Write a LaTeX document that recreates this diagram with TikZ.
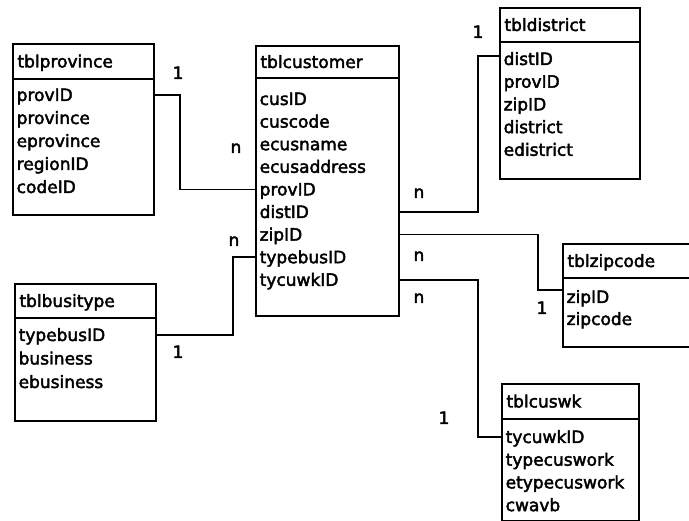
\documentclass[tikz,border=0pt]{standalone}
\usepackage{fontspec}
\setmainfont{DejaVu Sans}[FakeBold=2.5]

\newcommand{\tblfont}{\fontsize{17pt}{20pt}\selectfont}

\tikzset{
  tblbox/.style={draw, line width=2pt, anchor=north west, inner sep=0pt},
  tblhead/.style={draw, line width=2pt, anchor=north west, inner xsep=4.5pt, inner ysep=0pt,
    align=left, font=\tblfont, text height=12pt, text depth=0pt},
  row/.style={anchor=west, inner xsep=4.5pt, inner ysep=0pt, font=\tblfont, text height=12pt, text depth=0pt},
  card/.style={inner sep=0pt, font=\tblfont, text height=12pt, text depth=0pt},
  link/.style={line width=1.5pt},
}

\begin{document}
\begin{tikzpicture}[x=1pt, y=-1pt]
\useasboundingbox (0,0) rectangle (689,521);
\clip (0,0) rectangle (689,521);

% tables
\node[tblbox, minimum width=141pt, minimum height=171pt] (prov) at (12,43) {};
\node[tblhead, text width=132pt, minimum height=35pt] (prov-h) at (prov.north west) {tblprovince};
\foreach \f [count=\i] in {provID,province,eprovince,regionID,codeID} {
  \pgfmathsetmacro\dy{15+(\i-1)*23}
  \node[row] (prov-\i) at ([yshift=-\dy pt]prov-h.south west) {\f};
}

\node[tblbox, minimum width=143pt, minimum height=270pt] (cust) at (255,45) {};
\node[tblhead, text width=134pt, minimum height=32pt] (cust-h) at (cust.north west) {tblcustomer};
\foreach \f [count=\i] in {cusID,cuscode,ecusname,ecusaddress,provID,distID,zipID,typebusID,tycuwkID} {
  \pgfmathsetmacro\dy{20+(\i-1)*22.6}
  \node[row] (cust-\i) at ([yshift=-\dy pt]cust-h.south west) {\f};
}

\node[tblbox, minimum width=140pt, minimum height=171pt] (dist) at (499,7) {};
\node[tblhead, text width=131pt, minimum height=34pt] (dist-h) at (dist.north west) {tbldistrict};
\foreach \f [count=\i] in {distID,provID,zipID,district,edistrict} {
  \pgfmathsetmacro\dy{16+(\i-1)*22.7}
  \node[row] (dist-\i) at ([yshift=-\dy pt]dist-h.south west) {\f};
}

\node[tblbox, minimum width=138pt, minimum height=103pt] (zip) at (562,243) {};
\node[tblhead, text width=129pt, minimum height=34pt] (zip-h) at (zip.north west) {tblzipcode};
\foreach \f [count=\i] in {zipID,zipcode} {
  \pgfmathsetmacro\dy{18+(\i-1)*22}
  \node[row] (zip-\i) at ([yshift=-\dy pt]zip-h.south west) {\f};
}

\node[tblbox, minimum width=141pt, minimum height=137pt] (busi) at (14,283) {};
\node[tblhead, text width=132pt, minimum height=34pt] (busi-h) at (busi.north west) {tblbusitype};
\foreach \f [count=\i] in {typebusID,business,ebusiness} {
  \pgfmathsetmacro\dy{16+(\i-1)*23.5}
  \node[row] (busi-\i) at ([yshift=-\dy pt]busi-h.south west) {\f};
}

\node[tblbox, minimum width=137pt, minimum height=137pt] (cuswk) at (501,383) {};
\node[tblhead, text width=128pt, minimum height=35pt] (cuswk-h) at (cuswk.north west) {tblcuswk};
\foreach \f [count=\i] in {tycuwkID,typecuswork,etypecuswork,cwavb} {
  \pgfmathsetmacro\dy{17+(\i-1)*22.7}
  \node[row] (cuswk-\i) at ([yshift=-\dy pt]cuswk-h.south west) {\f};
}

% relations
\draw[link] (prov-1 -| prov.east) -- ++(25,0) |- (cust-5.west);
\draw[link] (cust-6 -| cust.east) -- ++(78,0) |- ([yshift=3pt]dist-1.west);
\draw[link] (cust-7 -| cust.east) -- ++(138,0) |- ([yshift=7pt]zip-1.west);
\draw[link] (busi-1 -| busi.east) -- ++(76,0) |- (cust-8.west);
\draw[link] (cust-9 -| cust.east) -- ++(78,0) |- (cuswk-1.west);

\node[card] (c-prov) at (178,73) {1};
\node[card] (c-cust-prov) at (236,147) {n};
\node[card] (c-dist) at (478,32) {1};
\node[card] (c-cust-dist) at (419,192) {n};
\node[card] (c-cust-zip) at (419,255) {n};
\node[card] (c-cust-wk) at (419,297) {n};
\node[card] (c-zip) at (542,308) {1};
\node[card] (c-cust-bus) at (234,240) {n};
\node[card] (c-bus) at (178,352) {1};
\node[card] (c-wk) at (444,418) {1};
\end{tikzpicture}
\end{document}
